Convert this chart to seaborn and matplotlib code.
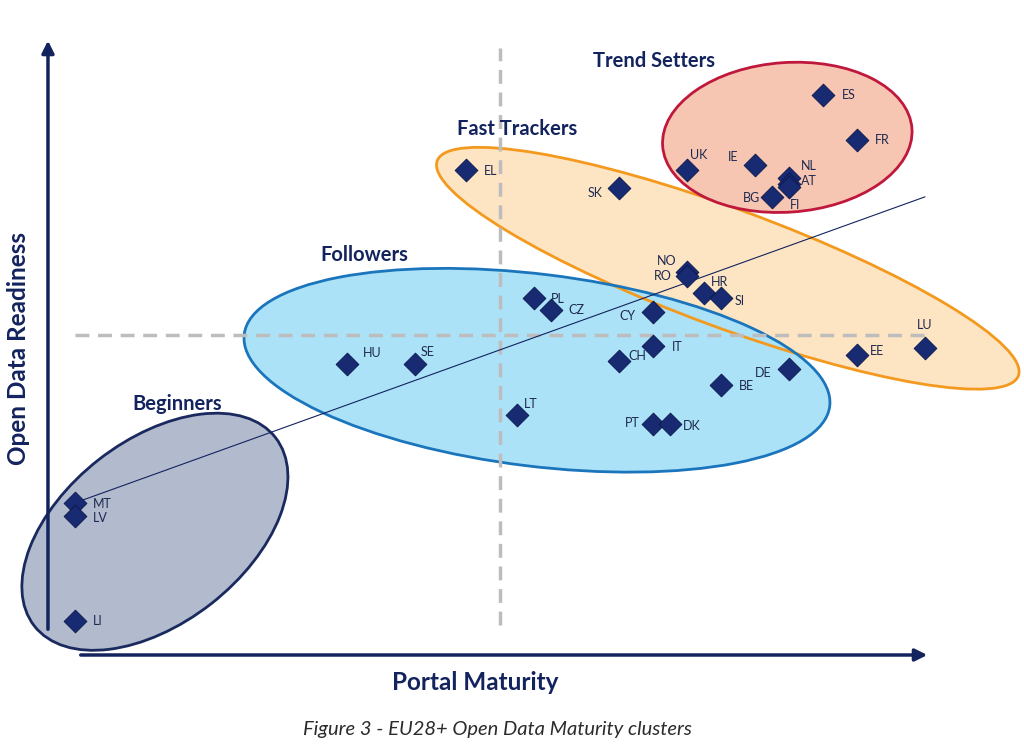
import matplotlib
matplotlib.use("Agg")
import matplotlib.pyplot as plt
from matplotlib.patches import Ellipse
import pandas as pd
import seaborn as sns

# country scores
countries = ['ES', 'FR', 'UK', 'IE', 'NL', 'AT', 'BG', 'FI', 'EL', 'SK',
             'NO', 'RO', 'HR', 'SI', 'CY', 'PL', 'CZ', 'IT', 'CH', 'HU',
             'SE', 'BE', 'DE', 'LT', 'PT', 'DK', 'EE', 'LU', 'MT', 'LV', 'LI']
portal_maturity = [88, 92, 72, 80, 84, 84, 82, 84, 46, 64,
                   72, 72, 74, 76, 68, 54, 56, 68, 64, 32,
                   40, 76, 84, 52, 68, 70, 92, 100, 0, 0, 0]
readiness = [61.9, 56.6, 53.1, 53.6, 52.1, 51.4, 49.9, 51.1, 53.1, 50.9,
             41.1, 40.6, 38.6, 38.0, 36.4, 38.0, 36.6, 32.4, 30.6, 30.2,
             30.2, 27.8, 29.6, 24.2, 23.2, 23.2, 31.3, 32.1, 13.9, 12.4, 0.0]

cluster_names = ['Trend Setters', 'Fast Trackers', 'Followers', 'Beginners']
x_split = 50
y_split = 33.6
trend_start = (0, 13.9)
trend_end = (100, 49.9)

df = pd.DataFrame({'Country': countries, 'Portal': portal_maturity, 'Readiness': readiness})

# label offsets in pixels (dx, dy)
label_offsets = {
    'ES': (26, 0), 'FR': (25, 0), 'UK': (12, 15), 'IE': (-22, 8), 'NL': (20, 12),
    'AT': (20, 3), 'BG': (-21, -1), 'FI': (6, -18), 'EL': (25, -1), 'SK': (-24, -5),
    'NO': (-20, 11), 'RO': (-24, 0), 'HR': (15, 11), 'SI': (19, -3), 'CY': (-26, -4),
    'PL': (24, -1), 'CZ': (25, 0), 'IT': (24, -1), 'CH': (18, 5), 'HU': (25, 11),
    'SE': (13, 12), 'BE': (25, -1), 'DE': (-26, -4), 'LT': (14, 11), 'PT': (-21, 1),
    'DK': (22, -2), 'EE': (20, 4), 'LU': (0, 23), 'MT': (27, -1), 'LV': (25, -2),
    'LI': (23, 0),
}

navy = '#13235E'
sns.set_style('white')
plt.rcParams['font.family'] = ['Lato', 'DejaVu Sans']

fig = plt.figure(figsize=(10.24, 7.44), dpi=100)
ax = fig.add_axes([0, 0, 1, 1])
ax.set_xlim(-75 / 8.5, (1024 - 75) / 8.5)
ax.set_ylim((621 - 744) / 8.5, 621 / 8.5)
ax.axis('off')

# cluster ellipses: (center, width, height, angle, face, edge)
shapes = {
    'Fast Trackers': ((76.8, 41.5), 72.9, 13.9, -20.3, '#FDE4C3', '#F39A1E'),
    'Followers': ((54.35, 29.5), 69.4, 22.6, -7, '#ABE2F7', '#1B75BC'),
    'Trend Setters': ((83.8, 56.9), 29.4, 17.6, 4, '#F7C6B2', '#C0183C'),
    'Beginners': ((9.4, 10.5), 36.0, 21.5, 38, '#B2BACE', '#1A2A5E'),
}
z = {'Fast Trackers': 1.0, 'Followers': 1.1, 'Trend Setters': 1.6, 'Beginners': 1.6}
for name, (c, w, h, ang, fc, ec) in shapes.items():
    ax.add_patch(Ellipse(c, w, h, angle=ang, facecolor=fc, edgecolor='none', zorder=z[name]))
    ez = 1.5 if name in ('Fast Trackers', 'Followers') else z[name] + 0.05
    ax.add_patch(Ellipse(c, w, h, angle=ang, facecolor='none', edgecolor=ec, lw=2, zorder=ez))

# quadrant lines
ax.plot([x_split, x_split], [(621 - 625) / 8.5, (621 - 48) / 8.5], color='#BDBDBD',
        lw=2.5, ls=(0, (4, 2.5)), zorder=2)
ax.plot([0, 100], [y_split, y_split], color='#BDBDBD', lw=2.5, ls=(0, (4, 2.5)), zorder=2)

# trend line
ax.plot([trend_start[0], trend_end[0]], [trend_start[1], trend_end[1]], color=navy, lw=0.8, zorder=2.5)

# axis arrows
ax.annotate('', xy=(-3.18, 68.6), xytext=(-3.18, -1.3),
            arrowprops=dict(arrowstyle='-|>', color=navy, lw=2.5, mutation_scale=18), zorder=3)
ax.annotate('', xy=(100.6, -4.0), xytext=(0.35, -4.0),
            arrowprops=dict(arrowstyle='-|>', color=navy, lw=2.5, mutation_scale=18), zorder=3)

sns.scatterplot(data=df, x='Portal', y='Readiness', marker='D', s=135, color='#172A72',
                edgecolor='#0A174A', linewidth=0.6, ax=ax, zorder=4, legend=False)

for c, xv, yv in zip(countries, portal_maturity, readiness):
    dx, dy = label_offsets[c]
    ax.annotate(c, (xv, yv), xytext=(dx, dy), textcoords='offset pixels', ha='center',
                va='center', fontsize=9, color='#1F2A50', zorder=5)

name_pos = [(68.1, 65.9), (52.0, 57.9), (34.0, 43.1), (12.0, 25.5)]
for name, (xp, yp) in zip(cluster_names, name_pos):
    ax.text(xp, yp, name, ha='center', va='center', fontsize=14.5, fontweight='bold', color=navy, zorder=5)

ax.text(47.1, -7.2, 'Portal Maturity', ha='center', va='center', fontsize=17.5,
        fontweight='bold', color=navy)
ax.text(-6.7, 32.1, 'Open Data Readiness', ha='center', va='center', fontsize=17.5,
        fontweight='bold', color=navy, rotation=90)
fig.text(497 / 1024, 1 - 730 / 744, 'Figure 3 - EU28+ Open Data Maturity clusters',
         ha='center', va='center', fontsize=14.5, style='italic', color='#2B2B2B')

fig.savefig('out.png', dpi=100)
